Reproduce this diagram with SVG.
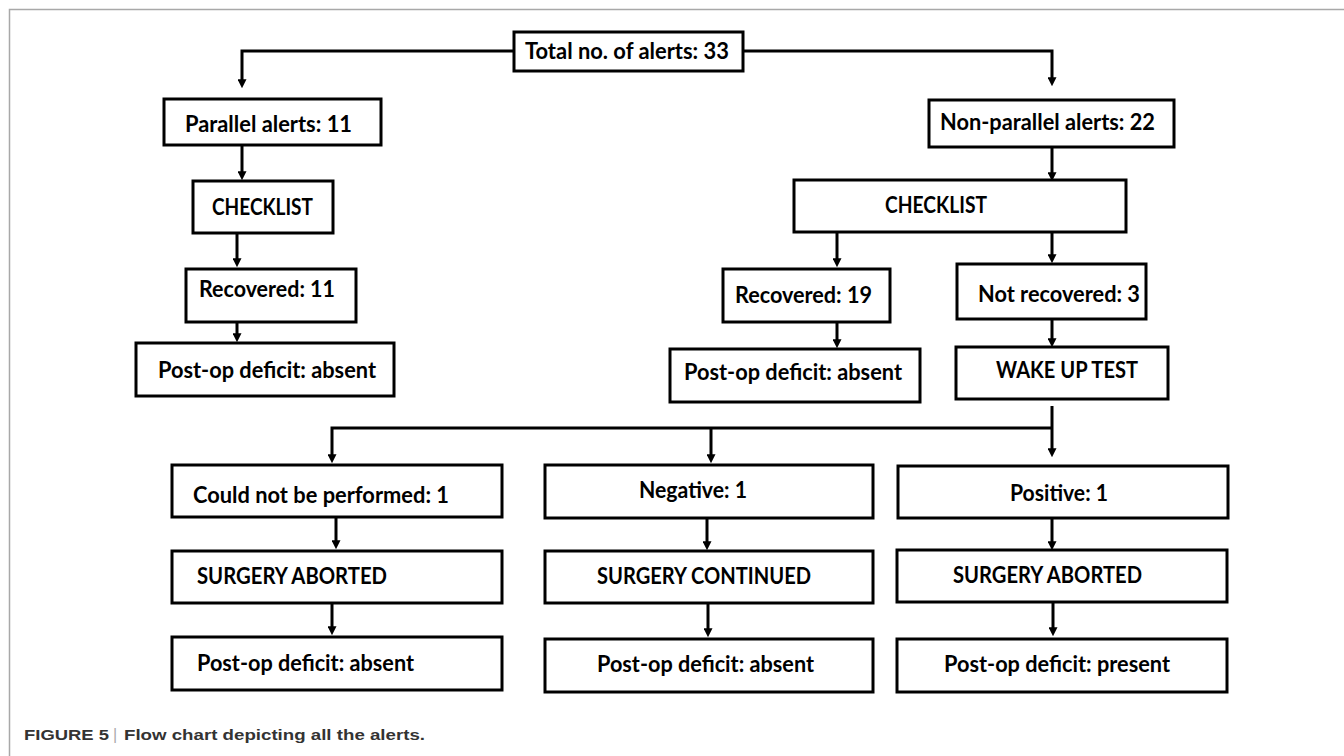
<svg xmlns="http://www.w3.org/2000/svg" width="1344" height="756" viewBox="0 0 1344 756">
<style>
.box{fill:#fff;stroke:#000;stroke-width:3}
.t{font-family:Lato,"Open Sans","Liberation Sans",sans-serif;font-weight:700;font-size:22px;fill:#000}
.c{fill:none;stroke:#000;stroke-width:3}
.cap{font-family:"Liberation Sans",Arial,sans-serif;font-weight:700;font-size:15px;fill:#333}
</style>
<defs>
<marker id="ah" viewBox="0 0 10 10" refX="2" refY="5" markerWidth="9" markerHeight="9" markerUnits="userSpaceOnUse" orient="auto">
<path d="M0,0 L10,5 L0,10 z" fill="#000"/>
</marker>
</defs>
<rect width="1344" height="756" fill="#fff"/>
<path d="M9.5,756 V9.5 H1344" fill="none" stroke="#a8a8a8" stroke-width="1.5"/>
<g id="connectors">
<path class="c" d="M514,51 H242 V81" marker-end="url(#ah)"/>
<path class="c" d="M743,51 H1052 V79" marker-end="url(#ah)"/>
<path class="c" d="M242,145 V173" marker-end="url(#ah)"/>
<path class="c" d="M237,233 V260" marker-end="url(#ah)"/>
<path class="c" d="M237,322 V335" marker-end="url(#ah)"/>
<path class="c" d="M1052,147 V174" marker-end="url(#ah)"/>
<path class="c" d="M837,232 V260" marker-end="url(#ah)"/>
<path class="c" d="M1052,232 V256" marker-end="url(#ah)"/>
<path class="c" d="M837,322 V341" marker-end="url(#ah)"/>
<path class="c" d="M1052,319 V340" marker-end="url(#ah)"/>
<path class="c" d="M1052,406 V450" marker-end="url(#ah)"/>
<path class="c" d="M1052,428 H332 V456" marker-end="url(#ah)"/>
<path class="c" d="M711,428 V456" marker-end="url(#ah)"/>
<path class="c" d="M336,517 V542" marker-end="url(#ah)"/>
<path class="c" d="M332,603 V628" marker-end="url(#ah)"/>
<path class="c" d="M707,518 V543" marker-end="url(#ah)"/>
<path class="c" d="M708,603 V630" marker-end="url(#ah)"/>
<path class="c" d="M1052,518 V543" marker-end="url(#ah)"/>
<path class="c" d="M1053,602 V629" marker-end="url(#ah)"/>
</g>
<g id="total"><rect class="box" x="514" y="32" width="229" height="39"/><text class="t" x="525" y="59" textLength="204" lengthAdjust="spacingAndGlyphs">Total no. of alerts: 33</text></g>
<g id="parallel"><rect class="box" x="164" y="99" width="217" height="46"/><text class="t" x="185" y="132" textLength="167" lengthAdjust="spacingAndGlyphs">Parallel alerts: 11</text></g>
<g id="checklist-left"><rect class="box" x="193" y="181" width="140" height="52"/><text class="t" x="212" y="215" textLength="101" lengthAdjust="spacingAndGlyphs">CHECKLIST</text></g>
<g id="recovered-11"><rect class="box" x="186" y="269" width="170" height="53"/><text class="t" x="199" y="297" textLength="136" lengthAdjust="spacingAndGlyphs">Recovered: 11</text></g>
<g id="postop-left"><rect class="box" x="136" y="343" width="258" height="53"/><text class="t" x="158" y="378" textLength="218" lengthAdjust="spacingAndGlyphs">Post-op deficit: absent</text></g>
<g id="nonparallel"><rect class="box" x="929" y="100" width="245" height="47"/><text class="t" x="940" y="130" textLength="215" lengthAdjust="spacingAndGlyphs">Non-parallel alerts: 22</text></g>
<g id="checklist-right"><rect class="box" x="794" y="180" width="332" height="52"/><text class="t" x="885" y="213" textLength="102" lengthAdjust="spacingAndGlyphs">CHECKLIST</text></g>
<g id="recovered-19"><rect class="box" x="723" y="269" width="167" height="53"/><text class="t" x="735" y="303" textLength="137" lengthAdjust="spacingAndGlyphs">Recovered: 19</text></g>
<g id="postop-mid"><rect class="box" x="670" y="349" width="250" height="53"/><text class="t" x="684" y="380" textLength="218" lengthAdjust="spacingAndGlyphs">Post-op deficit: absent</text></g>
<g id="not-recovered"><rect class="box" x="957" y="264" width="189" height="55"/><text class="t" x="978" y="302" textLength="162" lengthAdjust="spacingAndGlyphs">Not recovered: 3</text></g>
<g id="wake-up"><rect class="box" x="956" y="347" width="212" height="52"/><text class="t" x="996" y="378" textLength="142" lengthAdjust="spacingAndGlyphs">WAKE UP TEST</text></g>
<g id="could-not"><rect class="box" x="172" y="465" width="330" height="52"/><text class="t" x="193" y="503" textLength="256" lengthAdjust="spacingAndGlyphs">Could not be performed: 1</text></g>
<g id="negative"><rect class="box" x="545" y="465" width="328" height="53"/><text class="t" x="639" y="498" textLength="108" lengthAdjust="spacingAndGlyphs">Negative: 1</text></g>
<g id="positive"><rect class="box" x="898" y="466" width="330" height="52"/><text class="t" x="1010" y="501" textLength="98" lengthAdjust="spacingAndGlyphs">Positive: 1</text></g>
<g id="aborted-1"><rect class="box" x="172" y="551" width="330" height="52"/><text class="t" x="197" y="584" textLength="190" lengthAdjust="spacingAndGlyphs">SURGERY ABORTED</text></g>
<g id="continued"><rect class="box" x="545" y="551" width="328" height="52"/><text class="t" x="597" y="584" textLength="214" lengthAdjust="spacingAndGlyphs">SURGERY CONTINUED</text></g>
<g id="aborted-2"><rect class="box" x="897" y="550" width="330" height="52"/><text class="t" x="953" y="583" textLength="189" lengthAdjust="spacingAndGlyphs">SURGERY ABORTED</text></g>
<g id="postop-1"><rect class="box" x="172" y="637" width="330" height="53"/><text class="t" x="197" y="671" textLength="217" lengthAdjust="spacingAndGlyphs">Post-op deficit: absent</text></g>
<g id="postop-2"><rect class="box" x="545" y="639" width="328" height="53"/><text class="t" x="597" y="672" textLength="217" lengthAdjust="spacingAndGlyphs">Post-op deficit: absent</text></g>
<g id="postop-3"><rect class="box" x="897" y="639" width="330" height="53"/><text class="t" x="944" y="672" textLength="226" lengthAdjust="spacingAndGlyphs">Post-op deficit: present</text></g>
<g id="caption">
<text class="cap" x="24" y="740" textLength="85" lengthAdjust="spacingAndGlyphs">FIGURE 5</text>
<text x="113" y="740" font-family="Liberation Sans, Arial, sans-serif" font-size="16px" fill="#aaa">|</text>
<text class="cap" x="124" y="740" textLength="301" lengthAdjust="spacingAndGlyphs">Flow chart depicting all the alerts.</text>
</g>
</svg>
